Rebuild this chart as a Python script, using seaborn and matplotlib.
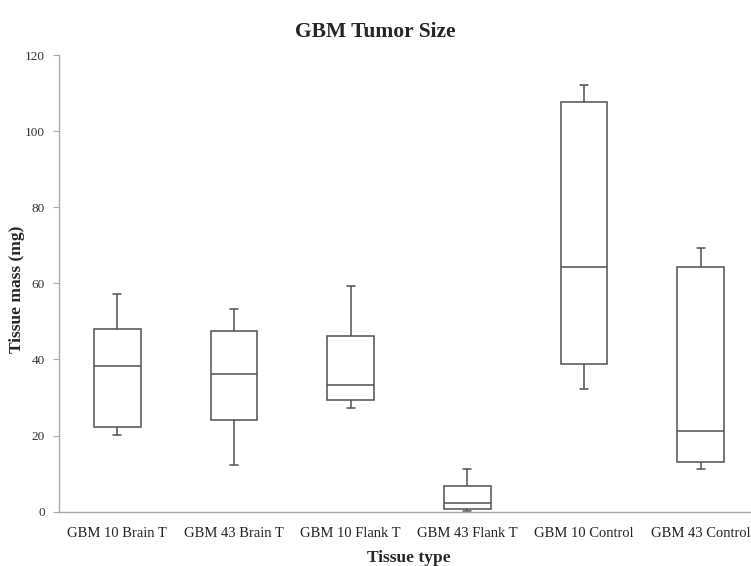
import numpy as np
import pandas as pd
import matplotlib
matplotlib.use('Agg')
import matplotlib.pyplot as plt
import seaborn as sns

tissue = ['GBM 10 Brain T', 'GBM 43 Brain T', 'GBM 10 Flank T',
          'GBM 43 Flank T', 'GBM 10 Control', 'GBM 43 Control']
# five-number summaries (mg)
lo_whisker = [20.2, 12.3, 27.3, 0.3, 32.3, 11.2]
q1 = [22.2, 24.2, 29.3, 0.7, 38.7, 13.1]
median = [38.2, 36.1, 33.2, 2.2, 64.3, 21.1]
q3 = [48.1, 47.6, 46.1, 6.7, 107.7, 64.3]
hi_whisker = [57.3, 53.2, 59.3, 11.2, 112.2, 69.2]

rows = []
for i, t in enumerate(tissue):
    for v in (lo_whisker[i], q1[i], median[i], q3[i], hi_whisker[i]):
        rows.append((t, v))
df = pd.DataFrame(rows, columns=['tissue', 'mass'])

sns.set_style('white')
plt.rcParams['font.family'] = ['Liberation Serif', 'DejaVu Serif']

fig = plt.figure(figsize=(7.51, 5.66), dpi=100)
ax = fig.add_axes([59/751, 54.3/566, 700/751, 456.7/566])

sns.boxplot(data=df, x='tissue', y='mass', order=tissue, width=0.4,
            whis=(0, 100), color='white', linecolor='#505050', linewidth=1.1,
            showfliers=False, capwidths=0.07, ax=ax)

ax.set_ylim(0, 120)
ax.set_xlim(-0.5, 5.5)
ax.set_yticks(np.arange(0, 121, 20))
ax.set_xticks(np.arange(-0.5, 6, 1), minor=True)
ax.tick_params(axis='x', which='major', length=0, pad=11, labelsize=10.5, labelcolor='#222222')
ax.tick_params(axis='x', which='minor', length=4, color='#aaaaaa', direction='out')
ax.tick_params(axis='y', length=4, color='#aaaaaa', direction='out', labelsize=9.5,
               labelcolor='#333333', pad=6, left=True)
for side in ('top', 'right'):
    ax.spines[side].set_visible(False)
for side in ('left', 'bottom'):
    ax.spines[side].set_color('#aaaaaa')
    ax.spines[side].set_linewidth(1.0)

ax.set_xlabel('Tissue type', fontsize=12.5, fontweight='bold', labelpad=7)
ax.set_ylabel('Tissue mass (mg)', fontsize=12.5, fontweight='bold')
ax.yaxis.set_label_coords(-34/700, 0.487)
fig.suptitle('GBM Tumor Size', fontsize=15.5, fontweight='bold', x=0.5,
             y=1 - 32/566, va='center')

fig.savefig('out.png', dpi=100)
